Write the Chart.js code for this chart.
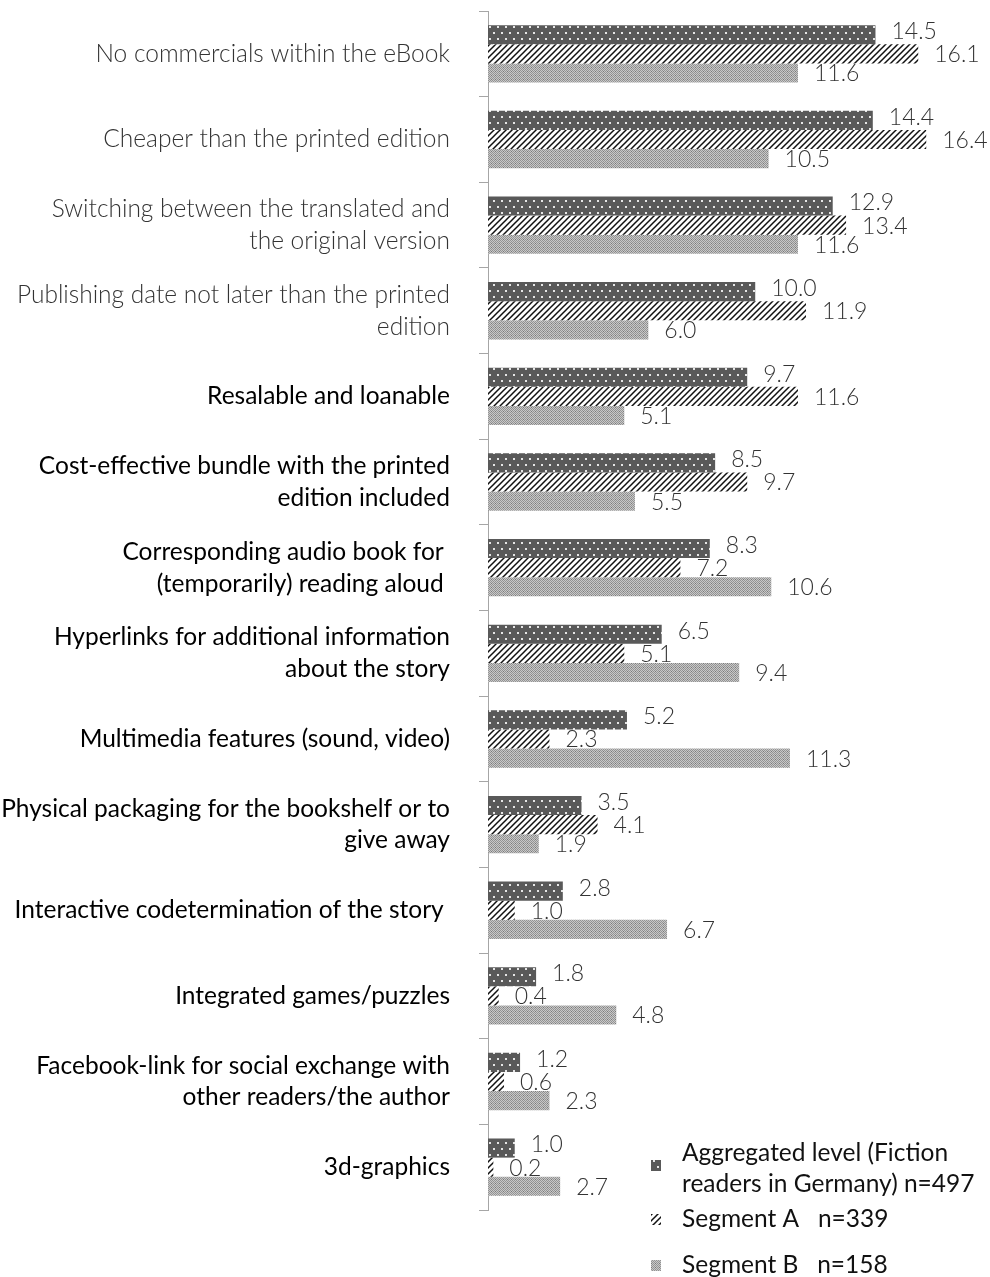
<!DOCTYPE html>
<html>
<head>
<meta charset="utf-8">
<script src="https://cdn.jsdelivr.net/npm/chart.js@4/dist/chart.umd.min.js"></script>
<style>
  html,body{margin:0;padding:0;background:#fff;}
  #wrap{width:990px;height:1277px;position:relative;}
</style>
</head>
<body>
<div id="wrap"><canvas id="chart" width="990" height="1277"></canvas></div>
<script>
// values (share of respondents, %)
const categories = [
  "No commercials within the eBook",
  "Cheaper than the printed edition",
  ["Switching between the translated and", "the original version"],
  ["Publishing date not later than the printed", "edition"],
  "Resalable and loanable",
  ["Cost-effective bundle with the printed", "edition included"],
  ["Corresponding audio book for ", "(temporarily) reading aloud "],
  ["Hyperlinks for additional information", "about the story"],
  "Multimedia features (sound, video)",
  ["Physical packaging for the bookshelf or to", "give away"],
  "Interactive codetermination of the story ",
  "Integrated games/puzzles",
  ["Facebook-link for social exchange with", "other readers/the author"],
  "3d-graphics"
];
const aggregated = [14.5, 14.4, 12.9, 10.0, 9.7, 8.5, 8.3, 6.5, 5.2, 3.5, 2.8, 1.8, 1.2, 1.0];
const segmentA   = [16.1, 16.4, 13.4, 11.9, 11.6, 9.7, 7.2, 5.1, 2.3, 4.1, 1.0, 0.4, 0.6, 0.2];
const segmentB   = [11.6, 10.5, 11.6, 6.0, 5.1, 5.5, 10.6, 9.4, 11.3, 1.9, 6.7, 4.8, 2.3, 2.7];
const legendLines = [
  ["Aggregated level (Fiction", "readers in Germany) n=497"],
  ["Segment A   n=339"],
  ["Segment B   n=158"]
];

const FONT = "Lato, 'Open Sans', sans-serif";

function makePattern(w, h, draw){
  const c = document.createElement("canvas");
  c.width = w; c.height = h;
  const g = c.getContext("2d");
  draw(g, w, h);
  return g.createPattern(c, "repeat");
}
const ctx0 = document.getElementById("chart").getContext("2d");

// dark grey with light dots
const patAgg = makePattern(8, 12, (g, w, h) => {
  g.fillStyle = "#595959"; g.fillRect(0, 0, w, h);
  g.fillStyle = "#e6e6e6";
  g.fillRect(1, 2, 2, 2);
  g.fillRect(5, 8, 2, 2);
});
// white with black diagonal stripes
const patA = makePattern(6, 6, (g, w, h) => {
  g.fillStyle = "#fff"; g.fillRect(0, 0, w, h);
  g.strokeStyle = "#111"; g.lineWidth = 1.5;
  g.beginPath();
  g.moveTo(-1, 7); g.lineTo(7, -1);
  g.moveTo(-4, 4); g.lineTo(4, -4);
  g.moveTo(2, 10); g.lineTo(10, 2);
  g.stroke();
});
// light grey fine checker
const patB = makePattern(4, 4, (g, w, h) => {
  g.fillStyle = "#c8c8c8"; g.fillRect(0, 0, w, h);
  g.fillStyle = "#939393";
  g.fillRect(0, 0, 1, 1); g.fillRect(2, 0, 1, 1);
  g.fillRect(1, 1, 1, 1); g.fillRect(3, 1, 1, 1);
  g.fillRect(0, 2, 1, 1); g.fillRect(2, 2, 1, 1);
  g.fillRect(1, 3, 1, 1);
  g.fillStyle = "#7a7a7a"; g.fillRect(3, 3, 1, 1);
});
const patterns = [patAgg, patA, patB];

const valueLabels = {
  id: "valueLabels",
  afterDatasetsDraw(chart){
    const { ctx } = chart;
    ctx.save();
    ctx.font = `300 23px ${FONT}`;
    ctx.fillStyle = "#333";
    ctx.textAlign = "left";
    ctx.textBaseline = "middle";
    chart.data.datasets.forEach((ds, di) => {
      const meta = chart.getDatasetMeta(di);
      meta.data.forEach((bar, i) => {
        const nudge = di === 0 ? -3 : 1;
        ctx.fillText(ds.data[i].toFixed(1), bar.x + 16, bar.y + nudge);
      });
    });
    ctx.restore();
  }
};

const legendBox = {
  id: "legendBox",
  afterDraw(chart){
    const { ctx } = chart;
    ctx.save();
    ctx.font = `400 24.5px ${FONT}`;
    ctx.textBaseline = "middle";
    const rows = [1153, 1219, 1265];
    legendLines.forEach((lines, i) => {
      const y0 = rows[i];
      const sy = lines.length > 1 ? y0 + 12 : y0;
      ctx.fillStyle = patterns[i];
      ctx.fillRect(651, sy - 5, 10, 11);
      ctx.fillStyle = "#111";
      lines.forEach((t, k) => ctx.fillText(t, 682, y0 + k * 31));
    });
    ctx.restore();
  }
};

new Chart(ctx0, {
  type: "bar",
  data: {
    labels: categories,
    datasets: [
      { label: "Aggregated level (Fiction readers in Germany) n=497", data: aggregated, backgroundColor: patAgg },
      { label: "Segment A n=339", data: segmentA, backgroundColor: patA },
      { label: "Segment B n=158", data: segmentB, backgroundColor: patB }
    ]
  },
  options: {
    indexAxis: "y",
    responsive: false,
    animation: false,
    events: [],
    layout: { padding: { top: 11, bottom: 67, left: 0, right: 21 } },
    datasets: { bar: { categoryPercentage: 0.67, barPercentage: 1, borderWidth: 0 } },
    plugins: { legend: { display: false }, tooltip: { enabled: false } },
    scales: {
      x: { display: false, min: 0, max: 18 },
      y: {
        afterFit(scale){
          scale.width = 488;
          scale.paddingTop = 0;
          scale.paddingBottom = 0;
        },
        border: { display: true, color: "#a6a6a6", width: 1 },
        grid: { drawOnChartArea: false, color: "#a6a6a6", tickLength: 9, offset: true },
        ticks: {
          padding: 29,
          color: (c) => c.index < 4 ? "#333" : "#000",
          font: (c) => ({ family: FONT, size: 24.5, weight: c.index < 4 ? 300 : 400, lineHeight: 1.3 })
        }
      }
    }
  },
  plugins: [valueLabels, legendBox]
});
</script>
</body>
</html>
